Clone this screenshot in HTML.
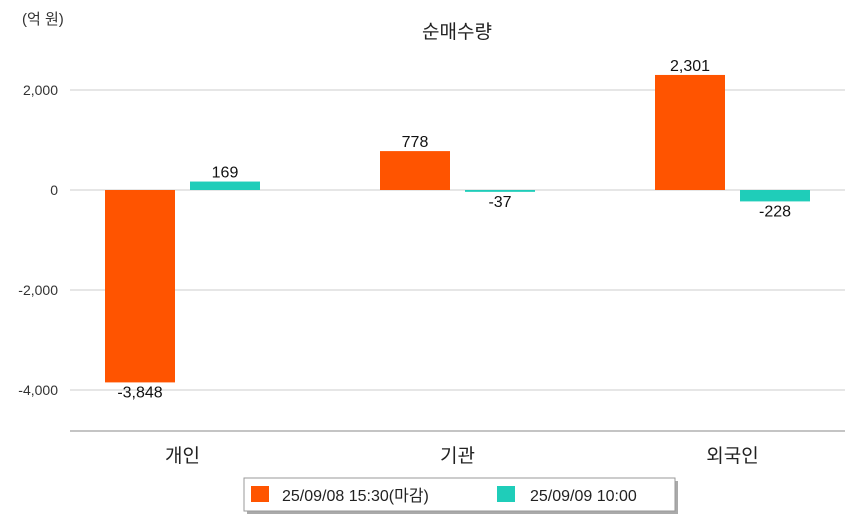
<!DOCTYPE html>
<html><head><meta charset="utf-8"><style>
body{margin:0;background:#fff;width:854px;height:520px;overflow:hidden;font-family:"Liberation Sans","Noto Sans CJK KR",sans-serif}
</style></head><body>
<svg width="854" height="520" font-family="Liberation Sans, Noto Sans CJK KR, sans-serif">
<text x="22" y="24" font-size="15" fill="#333">(억 원)</text>
<text x="457" y="38" font-size="19" fill="#222" text-anchor="middle">순매수량</text>
<g id="grid"></g><g id="bars"></g>
<line x1="70" y1="431" x2="845" y2="431" stroke="#888"/>
<g>
<rect x="247" y="481" width="431" height="33" fill="#aaa"/>
<rect x="244" y="478" width="431" height="33" fill="#fff" stroke="#999"/>
<rect x="251" y="486" width="18" height="16" fill="#ff5400"/>
<text x="282" y="501" font-size="16" fill="#222">25/09/08 15:30(마감)</text>
<rect x="497" y="486" width="18" height="16" fill="#1fcdb9"/>
<text x="530" y="501" font-size="16" fill="#222">25/09/09 10:00</text>
</g>
</svg>
<script>
const categories=["개인","기관","외국인"];
const series0908=[-3848,778,2301];
const series0909=[169,-37,-228];
const yTicks=[2000,0,-2000,-4000];
const ns="http://www.w3.org/2000/svg";
function y(v){return 190-v*0.05;}
function cx(i){return 182.5+i*275;}
function mk(tag,attrs,parent,text){const e=document.createElementNS(ns,tag);for(const k in attrs)e.setAttribute(k,attrs[k]);if(text!==undefined)e.textContent=text;parent.appendChild(e);return e;}
const grid=document.getElementById('grid'),bars=document.getElementById('bars');
yTicks.forEach(t=>{
 const l=mk('line',{x1:70,x2:845,y1:y(t),y2:y(t),stroke:'#ccc'},grid);
 
 
 const tx=mk('text',{x:58,y:y(t)+5,'font-size':14,fill:'#333','text-anchor':'end'},grid,t.toLocaleString('en-US'));
 
 
});
function fmt(v){return v.toLocaleString('en-US');}
categories.forEach((c,i)=>{
 const lab=mk('text',{x:cx(i),y:462,'font-size':19,fill:'#222','text-anchor':'middle'},bars,c);
 
 
 [[series0908,'#ff5400',-77.5],[series0909,'#1fcdb9',7.5]].forEach(([s,col,off],k)=>{
  const v=s[i],y0=y(0),y1=y(v);
  const r=mk('rect',{x:cx(i)+off,width:70,y:Math.min(y0,y1),height:Math.max(Math.abs(y1-y0),1),fill:col},bars);
  
  
  const ty=v>=0?y1-4:y1+15;
  const t=mk('text',{x:cx(i)+off+35,y:ty,'font-size':16,fill:'#111','text-anchor':'middle'},bars,fmt(v));
  
  
 });
});
</script>
</body></html>
